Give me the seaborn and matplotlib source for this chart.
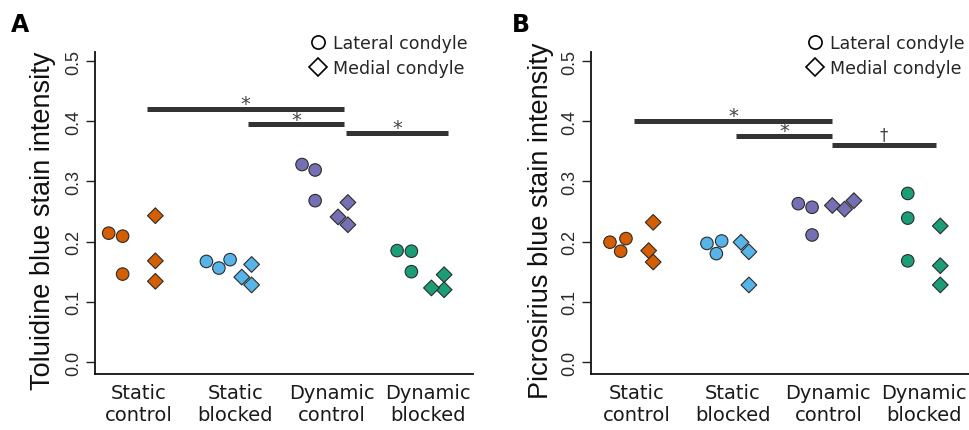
import numpy as np
import pandas as pd
import matplotlib
matplotlib.use("Agg")
import matplotlib.pyplot as plt
import seaborn as sns
from matplotlib.lines import Line2D

# ---------------- data ----------------
groups = ["Static\ncontrol", "Static\nblocked", "Dynamic\ncontrol", "Dynamic\nblocked"]
condyles = ["Lateral condyle", "Medial condyle"]
group_colors = ["#D55E00", "#56B4E9", "#7570B3", "#1B9E77"]

# Panel A: Toluidine blue stain intensity (3 samples per group)
tol_lateral = [[0.209, 0.214, 0.146],
               [0.170, 0.156, 0.167],
               [0.319, 0.328, 0.268],
               [0.184, 0.185, 0.150]]
tol_medial = [[0.243, 0.168, 0.134],
              [0.162, 0.128, 0.141],
              [0.265, 0.241, 0.228],
              [0.145, 0.120, 0.123]]

# Panel B: Picrosirius blue stain intensity
pic_lateral = [[0.205, 0.199, 0.184],
               [0.197, 0.201, 0.180],
               [0.257, 0.263, 0.211],
               [0.280, 0.239, 0.168]]
pic_medial = [[0.232, 0.185, 0.166],
              [0.199, 0.183, 0.128],
              [0.268, 0.254, 0.260],
              [0.226, 0.160, 0.128]]

# significance bars (group-index units)
tol_sig_from = [0.08, 1.13, 2.15]
tol_sig_to = [2.13, 2.13, 3.21]
tol_sig_y = [0.421, 0.395, 0.381]
tol_sig_text = ["*", "*", "*"]

pic_sig_from = [-0.03, 1.03, 2.04]
pic_sig_to = [2.04, 2.04, 3.12]
pic_sig_y = [0.401, 0.376, 0.361]
pic_sig_text = ["*", "*", "\u2020"]

yticks = [0.0, 0.1, 0.2, 0.3, 0.4, 0.5]
ytick_labels = ["0.0", "0.1", "0.2", "0.3", "0.4", "0.5"]

# ---------------- style ----------------
sns.set_style("white")
plt.rcParams["font.family"] = ["DejaVu Sans"]

W, H = 969, 431
fig = plt.figure(figsize=(W / 100, H / 100), dpi=100)

cond_offset = {"Lateral condyle": -0.17, "Medial condyle": 0.17}
cond_marker = {"Lateral condyle": "o", "Medial condyle": "D"}
cond_size = {"Lateral condyle": 9.0, "Medial condyle": 8.0}
palette = dict(zip(groups, group_colors))


def make_df(lateral, medial):
    rows = []
    for cond, vals in zip(condyles, [lateral, medial]):
        for gi, g in enumerate(groups):
            for v in vals[gi]:
                rows.append({"group": g, "condyle": cond, "value": v,
                             "pos": gi + cond_offset[cond]})
    return pd.DataFrame(rows)


def panel(ax_rect, lateral, medial, ylabel, sig_from, sig_to, sig_y, sig_text,
          xlim, letter, letter_xy, legend_xy, ylab_x):
    ax = fig.add_axes(ax_rect)
    df = make_df(lateral, medial)
    for cond in condyles:
        sub = df[df["condyle"] == cond]
        sns.swarmplot(data=sub, x="pos", y="value", hue="group", palette=palette,
                      hue_order=groups, native_scale=True, orient="x",
                      marker=cond_marker[cond], size=cond_size[cond],
                      linewidth=0.8, edgecolor="#2b2b2b", legend=False, ax=ax,
                      zorder=3)
    ax.set_xlim(*xlim)
    ax.set_ylim(-0.02, 0.515)
    ax.set_xticks(range(len(groups)))
    ax.set_xticklabels(groups, fontsize=14, color="#1a1a1a", linespacing=1.2)
    ax.tick_params(axis="x", length=0, pad=6.5)
    ax.set_yticks(yticks)
    ax.set_yticklabels(ytick_labels, rotation=90, va="center",
                       fontfamily="Liberation Sans", fontsize=13, color="#2a2a2a")
    ax.tick_params(axis="y", length=6.5, width=1.0, pad=3.0, color="#222222",
                   direction="out", left=True)
    ax.set_xlabel("")
    ax.set_ylabel(ylabel, fontfamily="Liberation Sans", fontsize=19.5, color="#111111")
    ax.yaxis.set_label_coords(ylab_x, 0.48)
    for s in ["top", "right"]:
        ax.spines[s].set_visible(False)
    for s in ["left", "bottom"]:
        ax.spines[s].set_linewidth(1.3)
        ax.spines[s].set_color("#111111")
    ax.grid(False)

    # significance bars
    for x0, x1, y, t in zip(sig_from, sig_to, sig_y, sig_text):
        ax.plot([x0, x1], [y, y], color="#333333", lw=3.6, solid_capstyle="butt",
                zorder=2, clip_on=False)
        if t == "*":
            ax.text((x0 + x1) / 2, y - 0.001, t, ha="center", va="baseline",
                    fontsize=14, color="#444444")
        else:
            ax.text((x0 + x1) / 2, y + 0.009, t, ha="center", va="baseline",
                    fontsize=12, color="#444444")

    # legend (open markers)
    handles = [Line2D([], [], linestyle="none", marker="o", markersize=9.5,
                      markerfacecolor="white", markeredgecolor="black",
                      markeredgewidth=1.2, label=condyles[0]),
               Line2D([], [], linestyle="none", marker="D", markersize=9.0,
                      markerfacecolor="white", markeredgecolor="black",
                      markeredgewidth=1.2, label=condyles[1])]
    ax.legend(handles=handles, loc="upper left",
              bbox_to_anchor=(legend_xy[0] / W, 1 - legend_xy[1] / H),
              bbox_transform=fig.transFigure, frameon=False, borderpad=0,
              borderaxespad=0, handlelength=1.0, handletextpad=0.36,
              labelspacing=0.42, prop={"family": "DejaVu Sans", "size": 12.5})
    fig.text(letter_xy[0] / W, 1 - letter_xy[1] / H, letter, fontsize=17,
             fontweight="bold", ha="left", va="baseline", color="black")
    return ax


axA = panel([95 / W, 1 - 375 / H, 378 / W, 322 / H], tol_lateral, tol_medial,
            "Toluidine blue stain intensity", tol_sig_from, tol_sig_to, tol_sig_y,
            tol_sig_text, (-0.457, 3.47), "A", (11, 32), (309, 35), -0.103)
axB = panel([591 / W, 1 - 375 / H, 378 / W, 322 / H], pic_lateral, pic_medial,
            "Picrosirius blue stain intensity", pic_sig_from, pic_sig_to, pic_sig_y,
            pic_sig_text, (-0.48, 3.47), "B", (512, 32), (806, 35), -0.098)

fig.savefig("out.png", dpi=100, facecolor="white")
